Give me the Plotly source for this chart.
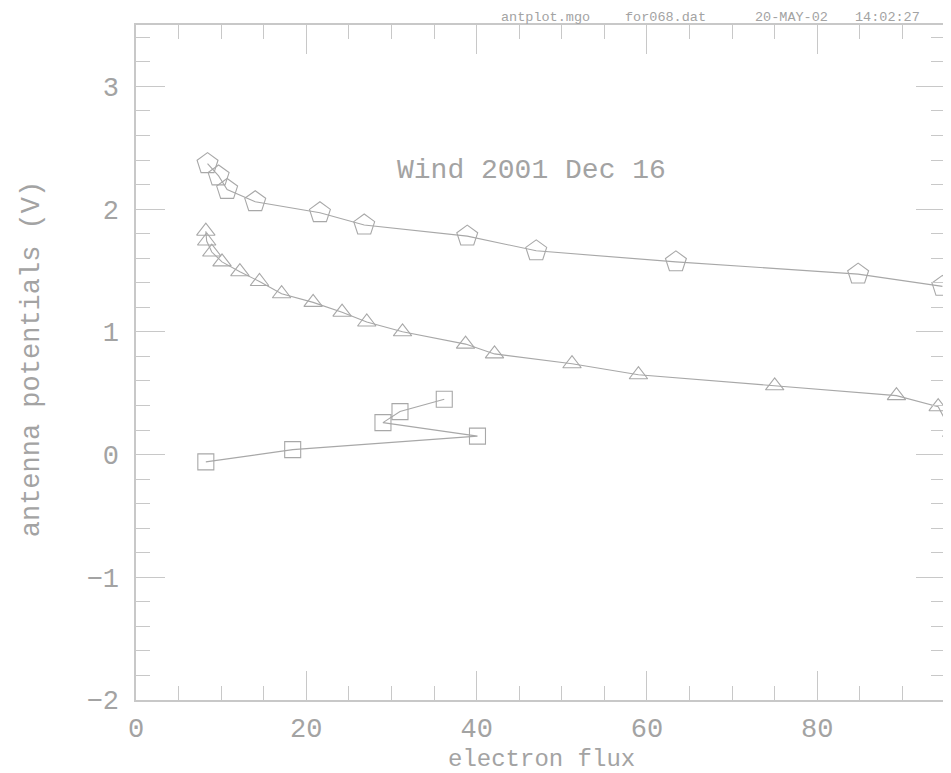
import plotly.graph_objects as go

# Pentagon series
pent_x = [8.4, 9.7, 10.7, 14.0, 21.6, 26.8, 38.9, 47.0, 63.4, 84.8, 94.7]
pent_y = [2.37, 2.27, 2.16, 2.06, 1.97, 1.87, 1.78, 1.66, 1.57, 1.47, 1.37]

# Triangle series
tri_x = [8.2, 8.3, 8.9, 10.1, 12.2, 14.5, 17.1, 20.8, 24.2, 27.1, 31.3, 38.7,
         42.1, 51.2, 59.0, 75.0, 89.3, 94.2, 95.8]
tri_y = [1.82, 1.74, 1.65, 1.57, 1.49, 1.41, 1.31, 1.24, 1.16, 1.08, 1.00, 0.90,
         0.82, 0.74, 0.65, 0.56, 0.48, 0.39, 0.18]

# Square series
sq_x = [8.2, 18.4, 40.1, 29.0, 31.0, 36.2]
sq_y = [-0.06, 0.04, 0.15, 0.26, 0.35, 0.45]

title_text = "Wind 2001 Dec 16"
x_title = "electron flux"
y_title = "antenna potentials (V)"
header_items = ["antplot.mgo", "for068.dat", "20-MAY-02", "14:02:27"]
header_px = [500, 624, 755, 855]

LINE = "#a8a8a8"
TXT = "#a3a3a3"
AX = "#c8c8c8"
FONT = "Liberation Mono"

fig = go.Figure()
for xs, ys, sym, sz in [(pent_x, pent_y, "pentagon-open", 22),
                        (tri_x, tri_y, "triangle-up-open", 16),
                        (sq_x, sq_y, "square-open", 16)]:
    fig.add_trace(go.Scatter(
        x=xs, y=ys, mode="lines+markers",
        line=dict(color=LINE, width=1.1),
        marker=dict(symbol=sym, size=sz, color=LINE, line=dict(color=LINE, width=1.1)),
        showlegend=False, cliponaxis=True))

# page has an 8px body margin; plot area target: x 136..947, y 25..700
OFF = 8
PX0, PX1, PY0, PY1 = 136, 947, 25, 700
W, H = 943, 765
L, T = PX0 - OFF, PY0 - OFF
R = W + OFF - PX1
B = H + OFF - PY1
pw, ph = PX1 - PX0, PY1 - PY0

def px(x):
    return (x - PX0) / pw

def py(y):
    return (PY1 - y) / ph

axis_common = dict(
    showline=True, linecolor=AX, linewidth=1.5, mirror="allticks",
    ticks="inside", ticklen=29, tickwidth=1.2, tickcolor=AX,
    showgrid=False, zeroline=False,
    tickfont=dict(family=FONT, size=27, color=TXT),
)

fig.update_xaxes(range=[0, 95], tick0=0, dtick=20, ticklabelstandoff=3,
                 minor=dict(dtick=5, ticklen=14, tickcolor=AX, ticks="inside", tickwidth=1.2),
                 **axis_common)
fig.update_yaxes(range=[-2, 3.5], tick0=0, dtick=1, ticklabelstandoff=10,
                 minor=dict(dtick=0.2, ticklen=14, tickcolor=AX, ticks="inside", tickwidth=1.2),
                 **axis_common)

ann = []
ann.append(dict(text=title_text, x=px(532.5), y=py(170.5), xref="paper", yref="paper",
                xanchor="center", yanchor="middle", showarrow=False,
                font=dict(family=FONT, size=28, color=TXT)))
ann.append(dict(text=x_title, x=px(542.5), y=py(760), xref="paper", yref="paper",
                xanchor="center", yanchor="middle", showarrow=False,
                font=dict(family=FONT, size=24, color=TXT)))
ann.append(dict(text=y_title, x=px(32), y=py(359), xref="paper", yref="paper",
                xanchor="center", yanchor="middle", showarrow=False, textangle=-90,
                font=dict(family=FONT, size=27, color=TXT)))
for t, p in zip(header_items, header_px):
    ann.append(dict(text=t, x=px(p), y=py(17), xref="paper", yref="paper",
                    xanchor="left", yanchor="middle", showarrow=False,
                    font=dict(family=FONT, size=13.5, color=TXT)))

fig.update_layout(
    width=W, height=H,
    margin=dict(l=L, r=R, t=T, b=B, pad=0),
    paper_bgcolor="white", plot_bgcolor="white",
    annotations=ann,
)

fig.write_html("out.html")
